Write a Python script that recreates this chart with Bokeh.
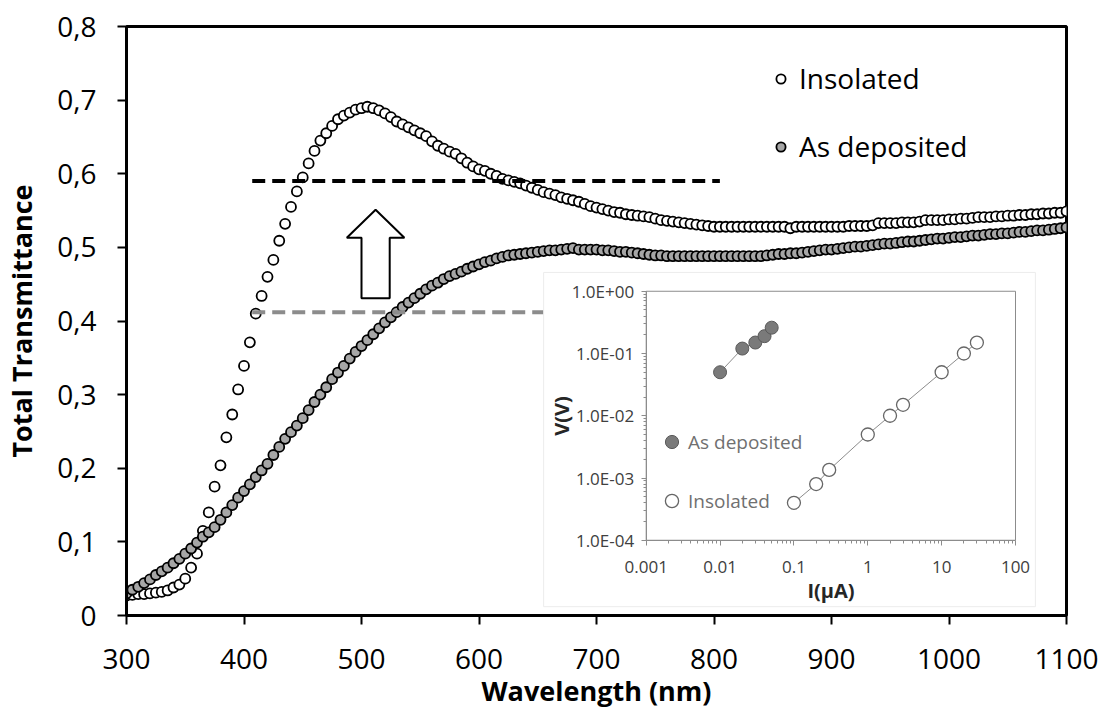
from bokeh.plotting import figure
from bokeh.models import (Range1d, LogScale, LogAxis, FixedTicker, CustomJSTickFormatter,
                          Legend, LegendItem)
from bokeh.embed import file_html
from bokeh.resources import INLINE
import math

# ---------------- data ----------------
wavelength = list(range(300, 1105, 5))  # nm, 5 nm measurement step

insolated_T = [
    0.027, 0.028, 0.029, 0.029, 0.030, 0.031, 0.032, 0.034, 0.038, 0.042,   # 300-345
    0.050, 0.065, 0.084, 0.115, 0.140, 0.175, 0.204, 0.242, 0.273, 0.307,   # 350-395
    0.339, 0.371, 0.410, 0.434, 0.460, 0.483, 0.509, 0.532, 0.555, 0.576,   # 400-445
    0.595, 0.614, 0.631, 0.645, 0.655, 0.665, 0.674, 0.679, 0.683, 0.687,   # 450-495
    0.689, 0.691, 0.689, 0.686, 0.682, 0.677, 0.671, 0.667, 0.663, 0.659,   # 500-545
    0.655, 0.651, 0.644, 0.638, 0.634, 0.630, 0.627, 0.621, 0.615, 0.610,   # 550-595
    0.606, 0.604, 0.600, 0.597, 0.593, 0.591, 0.589, 0.587, 0.584, 0.581,   # 600-645
    0.578, 0.575, 0.573, 0.571, 0.568, 0.566, 0.564, 0.562, 0.559, 0.556,   # 650-695
    0.554, 0.552, 0.550, 0.548, 0.547, 0.545, 0.544, 0.543, 0.542, 0.541,   # 700-745
    0.539, 0.537, 0.536, 0.535, 0.534, 0.533, 0.532, 0.531, 0.530, 0.529,   # 750-795
    0.528, 0.528, 0.528, 0.528, 0.528, 0.528, 0.528, 0.528, 0.528, 0.528,   # 800-845
    0.528, 0.528, 0.528, 0.526, 0.528, 0.528, 0.528, 0.528, 0.528, 0.528,   # 850-895
    0.528, 0.528, 0.528, 0.529, 0.529, 0.529, 0.529, 0.530, 0.533, 0.533,   # 900-945
    0.533, 0.533, 0.534, 0.534, 0.534, 0.535, 0.537, 0.537, 0.537, 0.537,   # 950-995
    0.538, 0.538, 0.539, 0.539, 0.540, 0.541, 0.541, 0.541, 0.542, 0.542,   # 1000-1045
    0.543, 0.543, 0.544, 0.544, 0.545, 0.545, 0.546, 0.546, 0.547, 0.547,   # 1050-1095
    0.549,                                                                   # 1100
]

deposited_T = [
    0.030, 0.035, 0.039, 0.044, 0.049, 0.055, 0.060, 0.065, 0.071, 0.077,   # 300-345
    0.084, 0.091, 0.099, 0.107, 0.113, 0.120, 0.130, 0.140, 0.150, 0.160,   # 350-395
    0.169, 0.178, 0.188, 0.197, 0.206, 0.218, 0.229, 0.240, 0.249, 0.258,   # 400-445
    0.268, 0.279, 0.290, 0.300, 0.310, 0.321, 0.330, 0.339, 0.349, 0.358,   # 450-495
    0.366, 0.374, 0.382, 0.390, 0.398, 0.405, 0.412, 0.419, 0.425, 0.431,   # 500-545
    0.437, 0.443, 0.448, 0.452, 0.457, 0.461, 0.464, 0.467, 0.471, 0.474,   # 550-595
    0.477, 0.480, 0.482, 0.485, 0.487, 0.489, 0.490, 0.491, 0.492, 0.493,   # 600-645
    0.494, 0.495, 0.496, 0.496, 0.497, 0.498, 0.499, 0.497, 0.497, 0.497,   # 650-695
    0.497, 0.496, 0.496, 0.495, 0.494, 0.494, 0.493, 0.492, 0.491, 0.490,   # 700-745
    0.489, 0.489, 0.488, 0.488, 0.488, 0.488, 0.488, 0.488, 0.488, 0.488,   # 750-795
    0.488, 0.488, 0.488, 0.488, 0.488, 0.488, 0.488, 0.488, 0.488, 0.489,   # 800-845
    0.490, 0.491, 0.491, 0.492, 0.492, 0.493, 0.494, 0.495, 0.496, 0.497,   # 850-895
    0.497, 0.498, 0.499, 0.500, 0.501, 0.501, 0.502, 0.503, 0.504, 0.505,   # 900-945
    0.505, 0.506, 0.507, 0.508, 0.508, 0.509, 0.510, 0.511, 0.512, 0.512,   # 950-995
    0.513, 0.514, 0.514, 0.515, 0.516, 0.516, 0.517, 0.518, 0.518, 0.519,   # 1000-1045
    0.519, 0.520, 0.521, 0.521, 0.522, 0.523, 0.523, 0.524, 0.525, 0.526,   # 1050-1095
    0.527,                                                                   # 1100
]

x_ticks = [300, 400, 500, 600, 700, 800, 900, 1000, 1100]
y_ticks = [0, 0.1, 0.2, 0.3, 0.4, 0.5, 0.6, 0.7, 0.8]

# reference levels (dashed) and the arrow
level_insolated = 0.59
level_deposited = 0.412
level_x_start = 407
level_x_end = 805

# inset: I-V data (log-log)
inset_I_dep = [0.01, 0.02, 0.03, 0.04, 0.05]
inset_V_dep = [0.05, 0.12, 0.15, 0.19, 0.26]
inset_I_ins = [0.1, 0.2, 0.3, 1, 2, 3, 10, 20, 30]
inset_V_ins = [0.0004, 0.0008, 0.00135, 0.005, 0.01, 0.015, 0.05, 0.1, 0.15]
inset_x_ticks = [0.001, 0.01, 0.1, 1, 10, 100]
inset_y_ticks = [1e-4, 1e-3, 1e-2, 1e-1, 1]

FONT = "Open Sans"

# ---------------- main figure ----------------
p = figure(width=1104, height=722, output_backend="svg", toolbar_location=None,
           x_range=Range1d(300, 1100), y_range=Range1d(0, 0.8),
           min_border_left=126, min_border_right=38, min_border_top=26, min_border_bottom=107)
p.grid.visible = False
p.outline_line_color = "black"
p.outline_line_width = 3
p.background_fill_color = "white"
p.border_fill_color = "white"

main_x = p.xaxis[0]
main_y = p.yaxis[0]
main_x.ticker = FixedTicker(ticks=x_ticks)
main_y.ticker = FixedTicker(ticks=y_ticks)
main_y.formatter = CustomJSTickFormatter(
    code="return tick == 0 ? '0' : tick.toFixed(1).replace('.', ',');")
main_x.axis_label = "Wavelength (nm)"
main_y.axis_label = "Total Transmittance"
for ax in (main_x, main_y):
    ax.axis_line_width = 3
    ax.axis_line_color = "black"
    ax.major_tick_line_width = 2
    ax.major_tick_line_color = "black"
    ax.major_tick_out = 9
    ax.major_tick_in = 0
    ax.minor_tick_line_color = None
    ax.major_label_text_font = FONT
    ax.major_label_text_font_size = "28px"
    ax.major_label_text_color = "black"
    ax.axis_label_text_font = FONT
    ax.axis_label_text_font_style = "bold"
    ax.axis_label_text_color = "black"
    ax.axis_label_text_font_size = "27px"
main_x.major_label_standoff = 24
main_x.axis_label_standoff = 0
main_y.major_label_standoff = 21
main_y.axis_label_standoff = 14

# data series
r_ins = p.scatter(wavelength, insolated_T, size=10, fill_color="white",
                  line_color="black", line_width=1.8)
r_dep = p.scatter(wavelength, deposited_T, size=10, fill_color="#a6a6a6",
                  line_color="black", line_width=1.8)

# dashed reference levels
p.line([level_x_start, level_x_end], [level_insolated, level_insolated],
       line_color="black", line_width=4, line_dash="13 7")
p.line([level_x_start, level_x_end], [level_deposited, level_deposited],
       line_color="#8c8c8c", line_width=4, line_dash="13 7")

# hollow block arrow (annotation)
arrow_x, arrow_base, arrow_tip, arrow_neck = 512, 0.431, 0.551, 0.513
arrow_head_half, arrow_shaft_half = 24.5, 12
p.patch([arrow_x - arrow_shaft_half, arrow_x + arrow_shaft_half, arrow_x + arrow_shaft_half,
         arrow_x + arrow_head_half, arrow_x, arrow_x - arrow_head_half,
         arrow_x - arrow_shaft_half],
        [arrow_base, arrow_base, arrow_neck, arrow_neck, arrow_tip, arrow_neck, arrow_neck],
        fill_color="white", line_color="black", line_width=2)

main_legend = Legend(items=[LegendItem(label="Insolated", renderers=[r_ins]),
                            LegendItem(label="As deposited", renderers=[r_dep])],
                     location=(643, 450), glyph_width=23, glyph_height=23,
                     label_standoff=7, spacing=30, padding=0, margin=0,
                     label_height=38, border_line_color=None, background_fill_alpha=0,
                     label_text_font=FONT, label_text_font_size="28px",
                     label_text_color="black")
p.add_layout(main_legend)

# ---------------- inset ----------------
# inset white panel in main data coordinates
panel_left, panel_right, panel_bottom, panel_top = 655, 1073.5, 0.012, 0.466
p.quad(left=[panel_left], right=[panel_right], bottom=[panel_bottom], top=[panel_top],
       fill_color="white", line_color="#ececec", line_width=1)

# inset plot area in main data coordinates -> log ranges
in_left, in_right, in_bottom, in_top = 742.3, 1056.6, 0.1022, 0.4404
xdec = (math.log10(inset_x_ticks[-1]) - math.log10(inset_x_ticks[0])) / (in_right - in_left)
ydec = (math.log10(inset_y_ticks[-1]) - math.log10(inset_y_ticks[0])) / (in_top - in_bottom)
ix_start = 10 ** (math.log10(inset_x_ticks[0]) - (in_left - 300) * xdec)
ix_end = 10 ** (math.log10(inset_x_ticks[-1]) + (1100 - in_right) * xdec)
iy_start = 10 ** (math.log10(inset_y_ticks[0]) - (in_bottom - 0) * ydec)
iy_end = 10 ** (math.log10(inset_y_ticks[-1]) + (0.8 - in_top) * ydec)
p.extra_x_ranges = {"ix": Range1d(ix_start, ix_end)}
p.extra_y_ranges = {"iy": Range1d(iy_start, iy_end)}
p.extra_x_scales = {"ix": LogScale()}
p.extra_y_scales = {"iy": LogScale()}

p.quad(left=[inset_x_ticks[0]], right=[inset_x_ticks[-1]],
       bottom=[inset_y_ticks[0]], top=[inset_y_ticks[-1]],
       x_range_name="ix", y_range_name="iy",
       fill_color=None, line_color="#8c8c8c", line_width=1)

x_minor = [k * 10.0 ** e for e in range(-3, 2) for k in range(2, 10)]
y_minor = [k * 10.0 ** e for e in range(-4, 0) for k in range(2, 10)]

ax_in_y = LogAxis(x_range_name="ix", y_range_name="iy", fixed_location=inset_x_ticks[0],
                  bounds=(inset_y_ticks[0], inset_y_ticks[-1]),
                  ticker=FixedTicker(ticks=inset_y_ticks, minor_ticks=y_minor),
                  formatter=CustomJSTickFormatter(code="""
                      const e = Math.round(Math.log10(tick));
                      const s = e < 0 ? '-' : '+';
                      return '1.0E' + s + String(Math.abs(e)).padStart(2, '0');"""),
                  axis_label="V(V)")
ax_in_x = LogAxis(x_range_name="ix", y_range_name="iy", fixed_location=inset_y_ticks[0],
                  bounds=(inset_x_ticks[0], inset_x_ticks[-1]),
                  ticker=FixedTicker(ticks=inset_x_ticks, minor_ticks=x_minor),
                  formatter=CustomJSTickFormatter(
                      code="return String(parseFloat(tick.toPrecision(3)));"),
                  axis_label="I(μA)")
for ax in (ax_in_x, ax_in_y):
    ax.axis_line_color = "#8c8c8c"
    ax.axis_line_width = 1
    ax.major_tick_line_color = "#8c8c8c"
    ax.minor_tick_line_color = "#8c8c8c"
    ax.major_tick_out = 5
    ax.major_tick_in = 0
    ax.minor_tick_out = 3
    ax.minor_tick_in = 0
    ax.major_label_text_font = FONT
    ax.major_label_text_font_size = "17px"
    ax.major_label_text_color = "#404040"
    ax.axis_label_text_font = FONT
    ax.axis_label_text_font_size = "20px"
    ax.axis_label_text_font_style = "bold"
    ax.axis_label_text_color = "#262626"
ax_in_y.major_label_standoff = 7
ax_in_y.axis_label_standoff = -6
ax_in_x.major_label_standoff = 16
ax_in_x.axis_label_standoff = 0
p.add_layout(ax_in_y, "left")
p.add_layout(ax_in_x, "below")

p.line(inset_I_dep, inset_V_dep, x_range_name="ix", y_range_name="iy",
       line_color="#8c8c8c", line_width=1)
p.line(inset_I_ins, inset_V_ins, x_range_name="ix", y_range_name="iy",
       line_color="#8c8c8c", line_width=1)
r_idep = p.scatter(inset_I_dep, inset_V_dep, x_range_name="ix", y_range_name="iy",
                   size=13, fill_color="#7a7a7a", line_color="#5a5a5a", line_width=1)
r_iins = p.scatter(inset_I_ins, inset_V_ins, x_range_name="ix", y_range_name="iy",
                   size=13, fill_color="white", line_color="#666666", line_width=1.3)

inset_legend = Legend(items=[LegendItem(label="As deposited", renderers=[r_idep]),
                             LegendItem(label="Insolated", renderers=[r_iins])],
                      location=(529, 98), glyph_width=33, glyph_height=33,
                      label_standoff=-5, spacing=26, padding=0, margin=0,
                      border_line_color=None, background_fill_alpha=0,
                      label_text_font=FONT, label_text_font_size="19px",
                      label_text_color="#707070")
p.add_layout(inset_legend)

open("out.html", "w").write(file_html(p, INLINE))
